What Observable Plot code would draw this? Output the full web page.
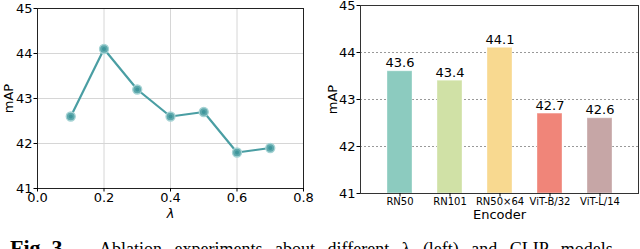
<!DOCTYPE html>
<html>
<head>
<meta charset="utf-8">
<script src="https://cdn.jsdelivr.net/npm/d3@7"></script>
<script src="https://cdn.jsdelivr.net/npm/@observablehq/plot@0.6"></script>
<style>
  html, body { margin: 0; padding: 0; background: #fff; }
  #wrap { position: relative; width: 640px; height: 249px; overflow: hidden; background: #fff; }
  #left { position: absolute; left: 0; top: 0; }
  #right { position: absolute; left: 320px; top: 0; }
  #caption { position: absolute; left: 10px; top: 237px; white-space: nowrap;
    font-family: "Liberation Serif", "DejaVu Serif", serif; font-size: 18px; line-height: 1; color: #000; }
  #caption b { font-size: 22px; margin-right: 31px; }
  #caption span { word-spacing: 8px; }
</style>
</head>
<body>
<div id="wrap">
  <div id="left"></div>
  <div id="right"></div>
  <div id="caption"><b>Fig. 3.</b><span>Ablation experiments about different λ (left) and CLIP models</span></div>
</div>
<script>
// ---- data ----
const lambdas = [0.1, 0.2, 0.3, 0.4, 0.5, 0.6, 0.7];
const lambdaMAP = [42.6, 44.1, 43.2, 42.6, 42.7, 41.8, 41.9];
const lambdaTicks = [0.0, 0.2, 0.4, 0.6, 0.8];
const mapTicks = [41, 42, 43, 44, 45];
const encoders = ["RN50", "RN101", "RN50×64", "ViT-B/32", "ViT-L/14"];
const encoderMAP = [43.6, 43.4, 44.1, 42.7, 42.6];
const encoderColors = ["#8ccbbf", "#d0e1a6", "#f8d990", "#f08579", "#c6a6a6"];

const lineData = lambdas.map((x, i) => ({x, y: lambdaMAP[i]}));
const barData = encoders.map((e, i) => ({e, v: encoderMAP[i]}));

const font = "'DejaVu Sans', sans-serif";

const left = Plot.plot({
  width: 320, height: 225,
  marginLeft: 37, marginRight: 17, marginTop: 8, marginBottom: 37,
  style: {fontFamily: font, fontSize: "13px", color: "#000", background: "transparent"},
  x: {domain: [0, 0.8]},
  y: {domain: [41, 45]},
  marks: [
    Plot.gridX(lambdaTicks, {stroke: "#d6d6d6", strokeOpacity: 1, strokeWidth: 1}),
    Plot.gridY(mapTicks, {stroke: "#d6d6d6", strokeOpacity: 1, strokeWidth: 1}),
    Plot.frame({stroke: "#222", strokeWidth: 1}),
    Plot.axisX(lambdaTicks, {tickFormat: d => d.toFixed(1), tickSize: 3.5, tickPadding: 1, label: null, fontSize: 13}),
    Plot.axisY(mapTicks, {tickSize: 3.5, tickPadding: 1.5, label: null, fontSize: 13}),
    Plot.text(["λ"], {frameAnchor: "bottom", dy: 25, lineAnchor: "middle", textAnchor: "middle", fontSize: 13, fontStyle: "italic"}),
    Plot.text(["mAP"], {frameAnchor: "left", dx: -29, rotate: -90, textAnchor: "middle", lineAnchor: "middle", fontSize: 13}),
    Plot.line(lineData, {x: "x", y: "y", stroke: "#4a9ea3", strokeWidth: 2.2}),
    Plot.dot(lineData, {x: "x", y: "y", r: 4.5, fill: "#5fa9ad", stroke: "#a6d3d4", strokeWidth: 1.3}),
    Plot.dot(lineData, {x: "x", y: "y", r: 2, fill: "#3f969b"})
  ]
});
document.getElementById("left").append(left);

const right = Plot.plot({
  width: 320, height: 225,
  marginLeft: 40, marginRight: 2, marginTop: 5, marginBottom: 32,
  style: {fontFamily: font, fontSize: "13px", color: "#000", background: "transparent"},
  x: {domain: encoders, padding: 0.5, align: 0.5},
  y: {domain: [41, 45]},
  color: {domain: encoders, range: encoderColors},
  marks: [
    Plot.gridY([42, 43, 44], {stroke: "#999", strokeOpacity: 1, strokeDasharray: "2,2", strokeWidth: 1}),
    Plot.barY(barData, {x: "e", y1: 41, y2: "v", fill: "e", stroke: "#fff", strokeOpacity: 0.35, strokeWidth: 1}),
    Plot.frame({stroke: "#333", strokeWidth: 1}),
    Plot.axisX({tickSize: 3.5, tickPadding: 1, label: null, fontSize: 10}),
    Plot.axisY(mapTicks, {tickSize: 3.5, tickPadding: 1.5, label: null, fontSize: 13}),
    Plot.text(barData, {x: "e", y: "v", text: d => d.v.toFixed(1), dy: -8, fontSize: 13}),
    Plot.text(["Encoder"], {frameAnchor: "bottom", dy: 21, lineAnchor: "middle", textAnchor: "middle", fontSize: 13}),
    Plot.text(["mAP"], {frameAnchor: "left", dx: -28, rotate: -90, textAnchor: "middle", lineAnchor: "middle", fontSize: 13})
  ]
});
document.getElementById("right").append(right);
</script>
</body>
</html>
